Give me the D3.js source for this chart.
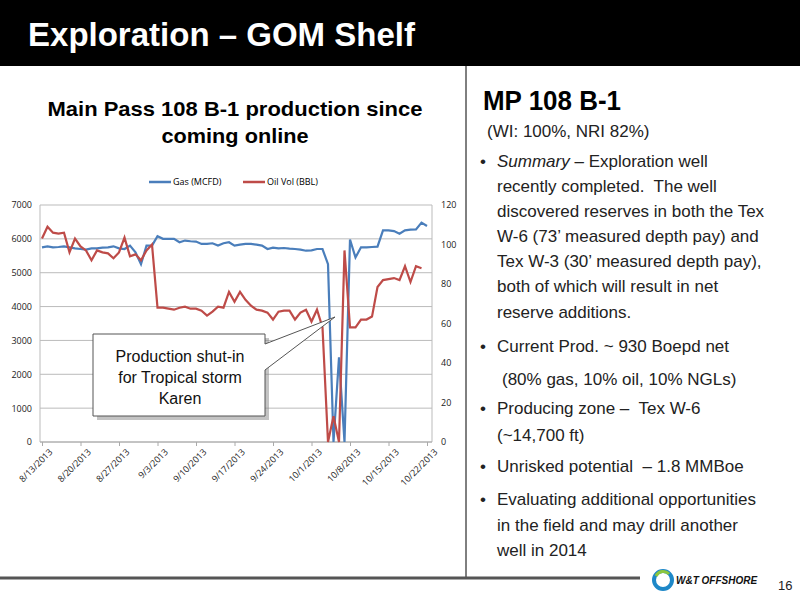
<!DOCTYPE html>
<html><head><meta charset="utf-8">
<script src="https://cdn.jsdelivr.net/npm/d3@7"></script>
<style>body{margin:0;background:#fff}svg{display:block}</style>
</head><body>
<script>
const startDate = "2013-08-13";
const gasMcfd = [5750,5780,5750,5760,5780,5750,5720,5700,5680,5720,5720,5740,5750,5780,5720,5700,5800,5600,5250,5800,5800,6080,6000,6000,6000,5900,5950,5930,5920,5850,5850,5870,5800,5870,5900,5800,5830,5850,5850,5830,5800,5700,5740,5720,5730,5710,5700,5680,5650,5660,5700,5700,5250,0,2500,0,5980,5450,5750,5750,5760,5770,6250,6250,6230,6150,6250,6270,6280,6480,6380];
const oilBbl = [103,109,106,105.5,106,96,103,99,97,92,97,96,95.5,93,96,103.5,94,95,92,97,100,68,68,67.5,67,68,68.5,67.5,67.5,66.5,64,66,68.5,68,76,71,76,72,69,67,66.5,65.5,62,66,66.5,66.5,62,65.5,67,61,67,58,0,13,0,97,58,58,62,62,63.5,78.5,82,82.5,83,82,89,81,89,88];
const tickDates = ["8/13/2013","8/20/2013","8/27/2013","9/3/2013","9/10/2013","9/17/2013","9/24/2013","10/1/2013","10/8/2013","10/15/2013","10/22/2013"];
const gasTicks = [0,1000,2000,3000,4000,5000,6000,7000];
const oilTicks = [0,20,40,60,80,100,120];
const bullets = [
  {y:167, b:true, parts:[["Summary",true],[" – Exploration well",false]]},
  {y:192, parts:[["recently completed.  The well",false]]},
  {y:217, parts:[["discovered reserves in both the Tex",false]]},
  {y:242, parts:[["W-6 (73’ measured depth pay) and",false]]},
  {y:267, parts:[["Tex W-3 (30’ measured depth pay),",false]]},
  {y:292, parts:[["both of which will result in net",false]]},
  {y:318, parts:[["reserve additions.",false]]},
  {y:352, b:true, parts:[["Current Prod. ~ 930 Boepd net",false]]},
  {y:385, x:502, parts:[["(80% gas, 10% oil, 10% NGLs)",false]]},
  {y:414, b:true, parts:[["Producing zone –  Tex W-6",false]]},
  {y:441, parts:[["(~14,700 ft)",false]]},
  {y:472, b:true, parts:[["Unrisked potential  – 1.8 MMBoe",false]]},
  {y:505, b:true, parts:[["Evaluating additional opportunities",false]]},
  {y:531, parts:[["in the field and may drill another",false]]},
  {y:556, parts:[["well in 2014",false]]}
];

const svg = d3.select("body").append("svg").attr("width",800).attr("height",600);
const F = "'Liberation Sans', Arial, sans-serif";
svg.append("rect").attr("width",800).attr("height",600).attr("fill","#fff");
svg.append("rect").attr("x",0).attr("y",0).attr("width",800).attr("height",66).attr("fill","#000");
svg.append("text").attr("x",28).attr("y",46).attr("fill","#fff").attr("font-family",F).attr("font-weight","bold").attr("font-size",34).attr("textLength",387).attr("lengthAdjust","spacingAndGlyphs").text("Exploration – GOM Shelf");
svg.append("line").attr("x1",466).attr("x2",466).attr("y1",66).attr("y2",578).attr("stroke","#000").attr("stroke-width",1);
svg.append("line").attr("x1",0).attr("x2",640).attr("y1",578).attr("y2",578).attr("stroke","#555").attr("stroke-width",3);

svg.append("text").attr("x",483).attr("y",110).attr("font-family",F).attr("font-weight","bold").attr("font-size",27).attr("textLength",138).attr("lengthAdjust","spacingAndGlyphs").text("MP 108 B-1");
svg.append("text").attr("x",487).attr("y",137).attr("font-family",F).attr("font-size",17).attr("fill","#222").text("(WI: 100%, NRI 82%)");
bullets.forEach(l=>{
  if(l.b) svg.append("text").attr("x",480).attr("y",l.y).attr("font-family",F).attr("font-size",17).attr("fill","#222").text("•");
  const t = svg.append("text").attr("x",l.x||497).attr("y",l.y).attr("font-family",F).attr("font-size",17).attr("fill","#222").attr("xml:space","preserve");
  l.parts.forEach(p=>t.append("tspan").attr("font-style",p[1]?"italic":"normal").text(p[0]));
});

const lg = svg.append("g").attr("transform","translate(663,580)");
lg.append("circle").attr("r",9).attr("fill","none").attr("stroke","#1e88c8").attr("stroke-width",4);
lg.append("path").attr("d","M-7,-4 A8,8 0 0,1 6,-6").attr("fill","none").attr("stroke","#8cc63f").attr("stroke-width",3);
svg.append("text").attr("x",676).attr("y",584).attr("font-family",F).attr("font-weight","bold").attr("font-style","italic").attr("font-size",10).attr("fill","#111").text("W&T OFFSHORE");
svg.append("text").attr("x",778).attr("y",590).attr("font-family",F).attr("font-size",13).attr("fill","#222").text("16");

svg.append("text").attr("x",235).attr("y",116).attr("text-anchor","middle").attr("font-family",F).attr("font-weight","bold").attr("font-size",21).attr("textLength",375).attr("lengthAdjust","spacingAndGlyphs").text("Main Pass 108 B-1 production since");
svg.append("text").attr("x",235).attr("y",143).attr("text-anchor","middle").attr("font-family",F).attr("font-weight","bold").attr("font-size",21).attr("textLength",147).attr("lengthAdjust","spacingAndGlyphs").text("coming online");

const LF = "'Open Sans', sans-serif";
svg.append("line").attr("x1",149).attr("x2",171).attr("y1",182).attr("y2",182).attr("stroke","#4a7ebb").attr("stroke-width",2.5);
svg.append("text").attr("x",173).attr("y",185).attr("font-family",LF).attr("font-size",9).text("Gas (MCFD)");
svg.append("line").attr("x1",243).attr("x2",265).attr("y1",182).attr("y2",182).attr("stroke","#be4b48").attr("stroke-width",2.5);
svg.append("text").attr("x",267).attr("y",185).attr("font-family",LF).attr("font-size",9).text("Oil Vol (BBL)");

const parse = d3.timeParse("%Y-%m-%d");
const d0 = parse(startDate);
const dates = gasMcfd.map((_,i)=>d3.timeDay.offset(d0,i));
const x = d3.scaleTime().domain([d0, d3.timeDay.offset(d0,70)]).range([42,427]);
const yL = d3.scaleLinear().domain([0,7000]).range([442,205]);
const yR = d3.scaleLinear().domain([0,120]).range([442,205]);

const grid = svg.append("g");
gasTicks.forEach(t=>grid.append("line").attr("x1",40).attr("x2",432).attr("y1",yL(t)).attr("y2",yL(t)).attr("stroke","#bbb").attr("stroke-width",1));
const lAx = svg.append("g").attr("transform","translate(40,0)").call(d3.axisLeft(yL).tickValues(gasTicks).tickSize(0).tickFormat(d3.format("d")));
const rAx = svg.append("g").attr("transform","translate(432,0)").call(d3.axisRight(yR).tickValues(oilTicks).tickSize(0).tickFormat(d3.format("d")));
[lAx,rAx].forEach(a=>{a.select(".domain").remove();a.selectAll("text").attr("font-family",LF).attr("font-size",9).attr("fill","#222");});
lAx.selectAll("text").attr("dx",-5); rAx.selectAll("text").attr("dx",6);
svg.append("line").attr("x1",40).attr("x2",40).attr("y1",205).attr("y2",442).attr("stroke","#bbb");
svg.append("line").attr("x1",432).attr("x2",432).attr("y1",205).attr("y2",442).attr("stroke","#bbb");

const tp = d3.timeParse("%m/%d/%Y");
const xAx = svg.append("g").attr("transform","translate(0,442)").call(d3.axisBottom(x).tickValues(tickDates.map(tp)).tickSize(4).tickFormat(d3.timeFormat("%-m/%-d/%Y")));
xAx.select(".domain").attr("stroke","#aaa").attr("d","M40,0H432");
xAx.selectAll(".tick line").attr("stroke","#aaa");
xAx.selectAll("text").attr("font-family",LF).attr("font-size",9).attr("fill","#222").attr("text-anchor","end").attr("transform","rotate(-45)").attr("dx",0).attr("dy",8);

svg.append("path").datum(gasMcfd).attr("fill","none").attr("stroke","#4a7ebb").attr("stroke-width",2.2)
  .attr("d",d3.line().x((d,i)=>x(dates[i])).y(d=>yL(d)));
svg.append("path").datum(oilBbl).attr("fill","none").attr("stroke","#be4b48").attr("stroke-width",2.2)
  .attr("d",d3.line().x((d,i)=>x(dates[i])).y(d=>yR(d)));

svg.append("path").attr("d","M95,336H267V418H95Z").attr("fill","#888").attr("transform","translate(2,2)").attr("opacity",0.5);
svg.append("path").attr("d","M93,334H265V344L335,317L265,370V416H93Z").attr("fill","#fff").attr("stroke","#555").attr("stroke-width",1);
["Production shut-in","for Tropical storm","Karen"].forEach((s,i)=>
  svg.append("text").attr("x",180).attr("y",362+i*21).attr("text-anchor","middle").attr("font-family",F).attr("font-size",16).attr("fill","#111").text(s));
</script>
</body></html>
